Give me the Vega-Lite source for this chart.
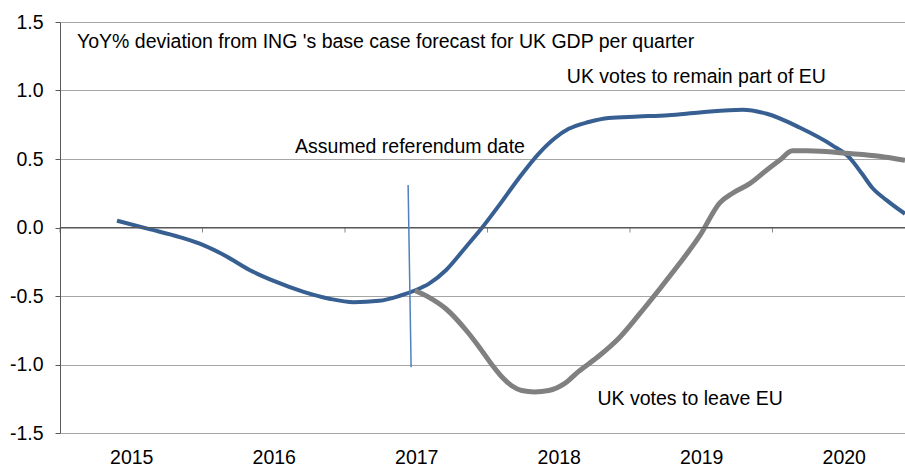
{
  "$schema": "https://vega.github.io/schema/vega-lite/v6.json",
  "width": 845,
  "height": 411,
  "autosize": {"type": "none"},
  "padding": {"left": 60, "top": 22, "right": 0, "bottom": 33},
  "config": {"view": {"stroke": null}, "font": "Liberation Sans"},
  "datasets": {
    "remain": [
      {"year": 2015.40, "value": 0.05},
      {"year": 2015.62, "value": -0.01},
      {"year": 2015.84, "value": -0.07},
      {"year": 2016.01, "value": -0.13},
      {"year": 2016.15, "value": -0.20},
      {"year": 2016.33, "value": -0.31},
      {"year": 2016.50, "value": -0.39},
      {"year": 2016.71, "value": -0.47},
      {"year": 2016.89, "value": -0.52},
      {"year": 2017.06, "value": -0.545},
      {"year": 2017.24, "value": -0.535},
      {"year": 2017.38, "value": -0.50},
      {"year": 2017.49, "value": -0.46},
      {"year": 2017.59, "value": -0.41},
      {"year": 2017.71, "value": -0.31},
      {"year": 2017.85, "value": -0.14},
      {"year": 2017.94, "value": -0.03},
      {"year": 2018.08, "value": 0.16},
      {"year": 2018.22, "value": 0.36},
      {"year": 2018.36, "value": 0.54},
      {"year": 2018.47, "value": 0.65},
      {"year": 2018.57, "value": 0.72},
      {"year": 2018.71, "value": 0.77},
      {"year": 2018.85, "value": 0.80},
      {"year": 2019.06, "value": 0.81},
      {"year": 2019.27, "value": 0.82},
      {"year": 2019.49, "value": 0.84},
      {"year": 2019.79, "value": 0.86},
      {"year": 2019.96, "value": 0.83},
      {"year": 2020.19, "value": 0.73},
      {"year": 2020.42, "value": 0.60},
      {"year": 2020.54, "value": 0.51},
      {"year": 2020.63, "value": 0.39},
      {"year": 2020.70, "value": 0.29},
      {"year": 2020.80, "value": 0.20},
      {"year": 2020.93, "value": 0.10}
    ],
    "leave": [
      {"year": 2017.49, "value": -0.46},
      {"year": 2017.59, "value": -0.51},
      {"year": 2017.71, "value": -0.595},
      {"year": 2017.85, "value": -0.75},
      {"year": 2017.94, "value": -0.87},
      {"year": 2018.03, "value": -1.00},
      {"year": 2018.10, "value": -1.09},
      {"year": 2018.17, "value": -1.155},
      {"year": 2018.24, "value": -1.19},
      {"year": 2018.33, "value": -1.20},
      {"year": 2018.43, "value": -1.19},
      {"year": 2018.54, "value": -1.14},
      {"year": 2018.64, "value": -1.05},
      {"year": 2018.78, "value": -0.94},
      {"year": 2018.92, "value": -0.81},
      {"year": 2019.06, "value": -0.64},
      {"year": 2019.20, "value": -0.46},
      {"year": 2019.35, "value": -0.26},
      {"year": 2019.49, "value": -0.06},
      {"year": 2019.63, "value": 0.18},
      {"year": 2019.72, "value": 0.25},
      {"year": 2019.84, "value": 0.32},
      {"year": 2019.96, "value": 0.42},
      {"year": 2020.05, "value": 0.49},
      {"year": 2020.14, "value": 0.56},
      {"year": 2020.24, "value": 0.56},
      {"year": 2020.54, "value": 0.54},
      {"year": 2020.75, "value": 0.52},
      {"year": 2020.93, "value": 0.49}
    ],
    "ticks": [
      {"year": 2015}, {"year": 2016}, {"year": 2017}, {"year": 2018}, {"year": 2019}, {"year": 2020}
    ],
    "referendum": [
      {"x": 2017.443, "y": 0.31, "x2": 2017.464, "y2": -1.02}
    ],
    "notes": [
      {"text": "YoY% deviation from ING 's base case forecast for UK GDP per quarter", "year": 2015.119, "value": 1.308},
      {"text": "UK votes to remain part of EU", "year": 2018.557, "value": 1.053},
      {"text": "Assumed referendum date", "year": 2016.65, "value": 0.546},
      {"text": "UK votes to leave EU", "year": 2018.772, "value": -1.296}
    ]
  },
  "layer": [
    {
      "data": {"name": "remain"},
      "mark": {"type": "line", "interpolate": "monotone", "strokeWidth": 4, "color": "#375F92"},
      "encoding": {
        "x": {
          "field": "year", "type": "quantitative",
          "scale": {"domain": [2015, 2020.93], "nice": false, "zero": false},
          "axis": {
            "values": [2015.5, 2016.5, 2017.5, 2018.5, 2019.5, 2020.5],
            "labelExpr": "'' + floor(datum.value)",
            "title": null, "grid": false, "domain": false, "ticks": false,
            "labelFontSize": 19.5, "labelColor": "#000000", "labelPadding": 15,
            "labelFont": "Liberation Sans"
          }
        },
        "y": {
          "field": "value", "type": "quantitative",
          "scale": {"domain": [-1.5, 1.5], "nice": false, "zero": false},
          "axis": {
            "values": [-1.5, -1, -0.5, 0, 0.5, 1, 1.5],
            "labelExpr": "datum.value < 0 ? '-' + format(-datum.value, '.1f') : format(datum.value, '.1f')",
            "title": null, "grid": true, "gridColor": "#a6a6a6", "gridWidth": 1,
            "domain": true, "domainColor": "#595959", "ticks": true, "tickColor": "#595959", "tickSize": 5,
            "labelFontSize": 19.5, "labelColor": "#000000", "labelPadding": 12,
            "labelFont": "Liberation Sans"
          }
        }
      }
    },
    {
      "data": {"name": "leave"},
      "mark": {"type": "line", "interpolate": "monotone", "strokeWidth": 5, "color": "#808080"},
      "encoding": {
        "x": {"field": "year", "type": "quantitative"},
        "y": {"field": "value", "type": "quantitative"}
      }
    },
    {
      "data": {"values": [{}]},
      "mark": {"type": "rule", "color": "#595959", "strokeWidth": 1},
      "encoding": {"y": {"datum": 0, "type": "quantitative"}}
    },
    {
      "data": {"name": "ticks"},
      "mark": {"type": "tick", "orient": "vertical", "size": 5, "thickness": 1, "yOffset": 2.5, "color": "#595959"},
      "encoding": {
        "x": {"field": "year", "type": "quantitative"},
        "y": {"datum": 0, "type": "quantitative"}
      }
    },
    {
      "data": {"name": "referendum"},
      "mark": {"type": "rule", "color": "#4F81BD", "strokeWidth": 1.5},
      "encoding": {
        "x": {"field": "x", "type": "quantitative"},
        "y": {"field": "y", "type": "quantitative"},
        "x2": {"field": "x2"},
        "y2": {"field": "y2"}
      }
    },
    {
      "data": {"name": "notes"},
      "mark": {"type": "text", "align": "left", "baseline": "alphabetic", "fontSize": 19.5, "color": "#000000", "font": "Liberation Sans"},
      "encoding": {
        "x": {"field": "year", "type": "quantitative"},
        "y": {"field": "value", "type": "quantitative"},
        "text": {"field": "text"}
      }
    }
  ]
}
